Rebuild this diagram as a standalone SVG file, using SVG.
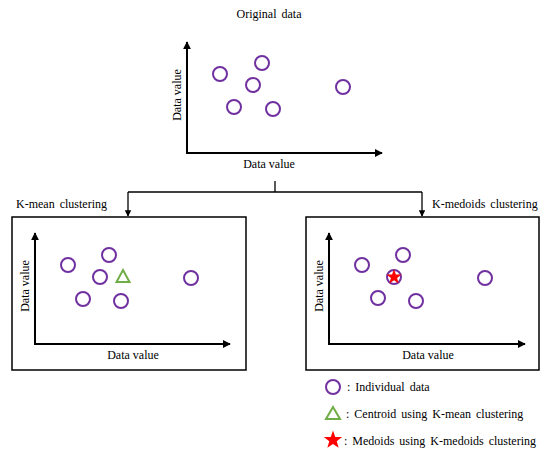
<svg xmlns="http://www.w3.org/2000/svg" width="550" height="460" viewBox="0 0 550 460">
<style>
text{font-family:"Liberation Serif","Times New Roman",serif;font-size:12px;fill:#000}
.ws{word-spacing:2px}
.pt{fill:none;stroke:#7030A0;stroke-width:2}
.ax{fill:none;stroke:#000;stroke-width:2}
.box{fill:#fff;stroke:#000;stroke-width:1.5}
.cn{fill:none;stroke:#000;stroke-width:1.3}
.tri{fill:none;stroke:#70AD47;stroke-width:2}
.star{fill:#FF0000}
</style>
<defs>
<marker id="ah" viewBox="0 0 10 10" refX="9" refY="5" markerWidth="4" markerHeight="4" orient="auto" markerUnits="strokeWidth"><path d="M0,0L10,5L0,10z" fill="#000"/></marker>
<marker id="ah2" viewBox="0 0 10 10" refX="9" refY="5" markerWidth="5" markerHeight="5" orient="auto" markerUnits="strokeWidth"><path d="M0,0L10,5L0,10z" fill="#000"/></marker>
<path id="st" d="M0,-8L1.9,-2.6L7.6,-2.5L3.1,1L4.7,6.5L0,3.3L-4.7,6.5L-3.1,1L-7.6,-2.5L-1.9,-2.6z"/>
</defs>

<g id="original">
<text x="269" y="18" text-anchor="middle" class="ws">Original data</text>
<path class="ax" d="M187,153V42" marker-end="url(#ah)"/>
<path class="ax" d="M186,153H382" marker-end="url(#ah)"/>
<text x="269" y="168" text-anchor="middle">Data value</text>
<text transform="translate(181,95) rotate(-90)" text-anchor="middle">Data value</text>
<circle class="pt" cx="220" cy="74" r="7"/>
<circle class="pt" cx="262" cy="63" r="7"/>
<circle class="pt" cx="253" cy="85" r="7"/>
<circle class="pt" cx="234" cy="107" r="7"/>
<circle class="pt" cx="273" cy="109" r="7"/>
<circle class="pt" cx="343" cy="87" r="7"/>
</g>

<g id="connectors">
<path class="cn" d="M275,181V192"/>
<path class="cn" d="M128,192H422"/>
<path class="cn" d="M128,192V216" marker-end="url(#ah2)"/>
<path class="cn" d="M422,192V216" marker-end="url(#ah2)"/>
</g>

<g id="kmean">
<text x="16" y="208" class="ws">K-mean clustering</text>
<rect class="box" x="12" y="217" width="234" height="153"/>
<path class="ax" d="M35,344V233" marker-end="url(#ah)"/>
<path class="ax" d="M34,344H230" marker-end="url(#ah)"/>
<text x="133" y="359" text-anchor="middle">Data value</text>
<text transform="translate(29,286) rotate(-90)" text-anchor="middle">Data value</text>
<circle class="pt" cx="68" cy="265" r="7"/>
<circle class="pt" cx="109" cy="255" r="7"/>
<circle class="pt" cx="100" cy="277" r="7"/>
<circle class="pt" cx="83" cy="299" r="7"/>
<circle class="pt" cx="121" cy="301" r="7"/>
<circle class="pt" cx="191" cy="278" r="7"/>
<path class="tri" d="M123,270L129.5,282H116.5z"/>
</g>

<g id="kmedoids">
<text x="432" y="208" class="ws">K-medoids clustering</text>
<rect class="box" x="306" y="217" width="233" height="153"/>
<path class="ax" d="M329,344V233" marker-end="url(#ah)"/>
<path class="ax" d="M328,344H525" marker-end="url(#ah)"/>
<text x="428" y="359" text-anchor="middle">Data value</text>
<text transform="translate(323,286) rotate(-90)" text-anchor="middle">Data value</text>
<circle class="pt" cx="362" cy="265" r="7"/>
<circle class="pt" cx="403" cy="255" r="7"/>
<circle class="pt" cx="394" cy="277" r="7"/>
<circle class="pt" cx="378" cy="298" r="7"/>
<circle class="pt" cx="416" cy="301" r="7"/>
<circle class="pt" cx="485" cy="278" r="7"/>
<use href="#st" class="star" x="394" y="277"/>
</g>

<g id="legend">
<circle class="pt" cx="333" cy="387" r="7"/>
<text x="347" y="391" class="ws">: Individual data</text>
<path class="tri" d="M333,407L340,419H326z"/>
<text x="346" y="418" class="ws">: Centroid using K-mean clustering</text>
<use href="#st" class="star" x="333" y="440" transform="translate(333,440) scale(1.2) translate(-333,-440)"/>
<text x="344" y="445" class="ws">: Medoids using K-medoids clustering</text>
</g>
</svg>
